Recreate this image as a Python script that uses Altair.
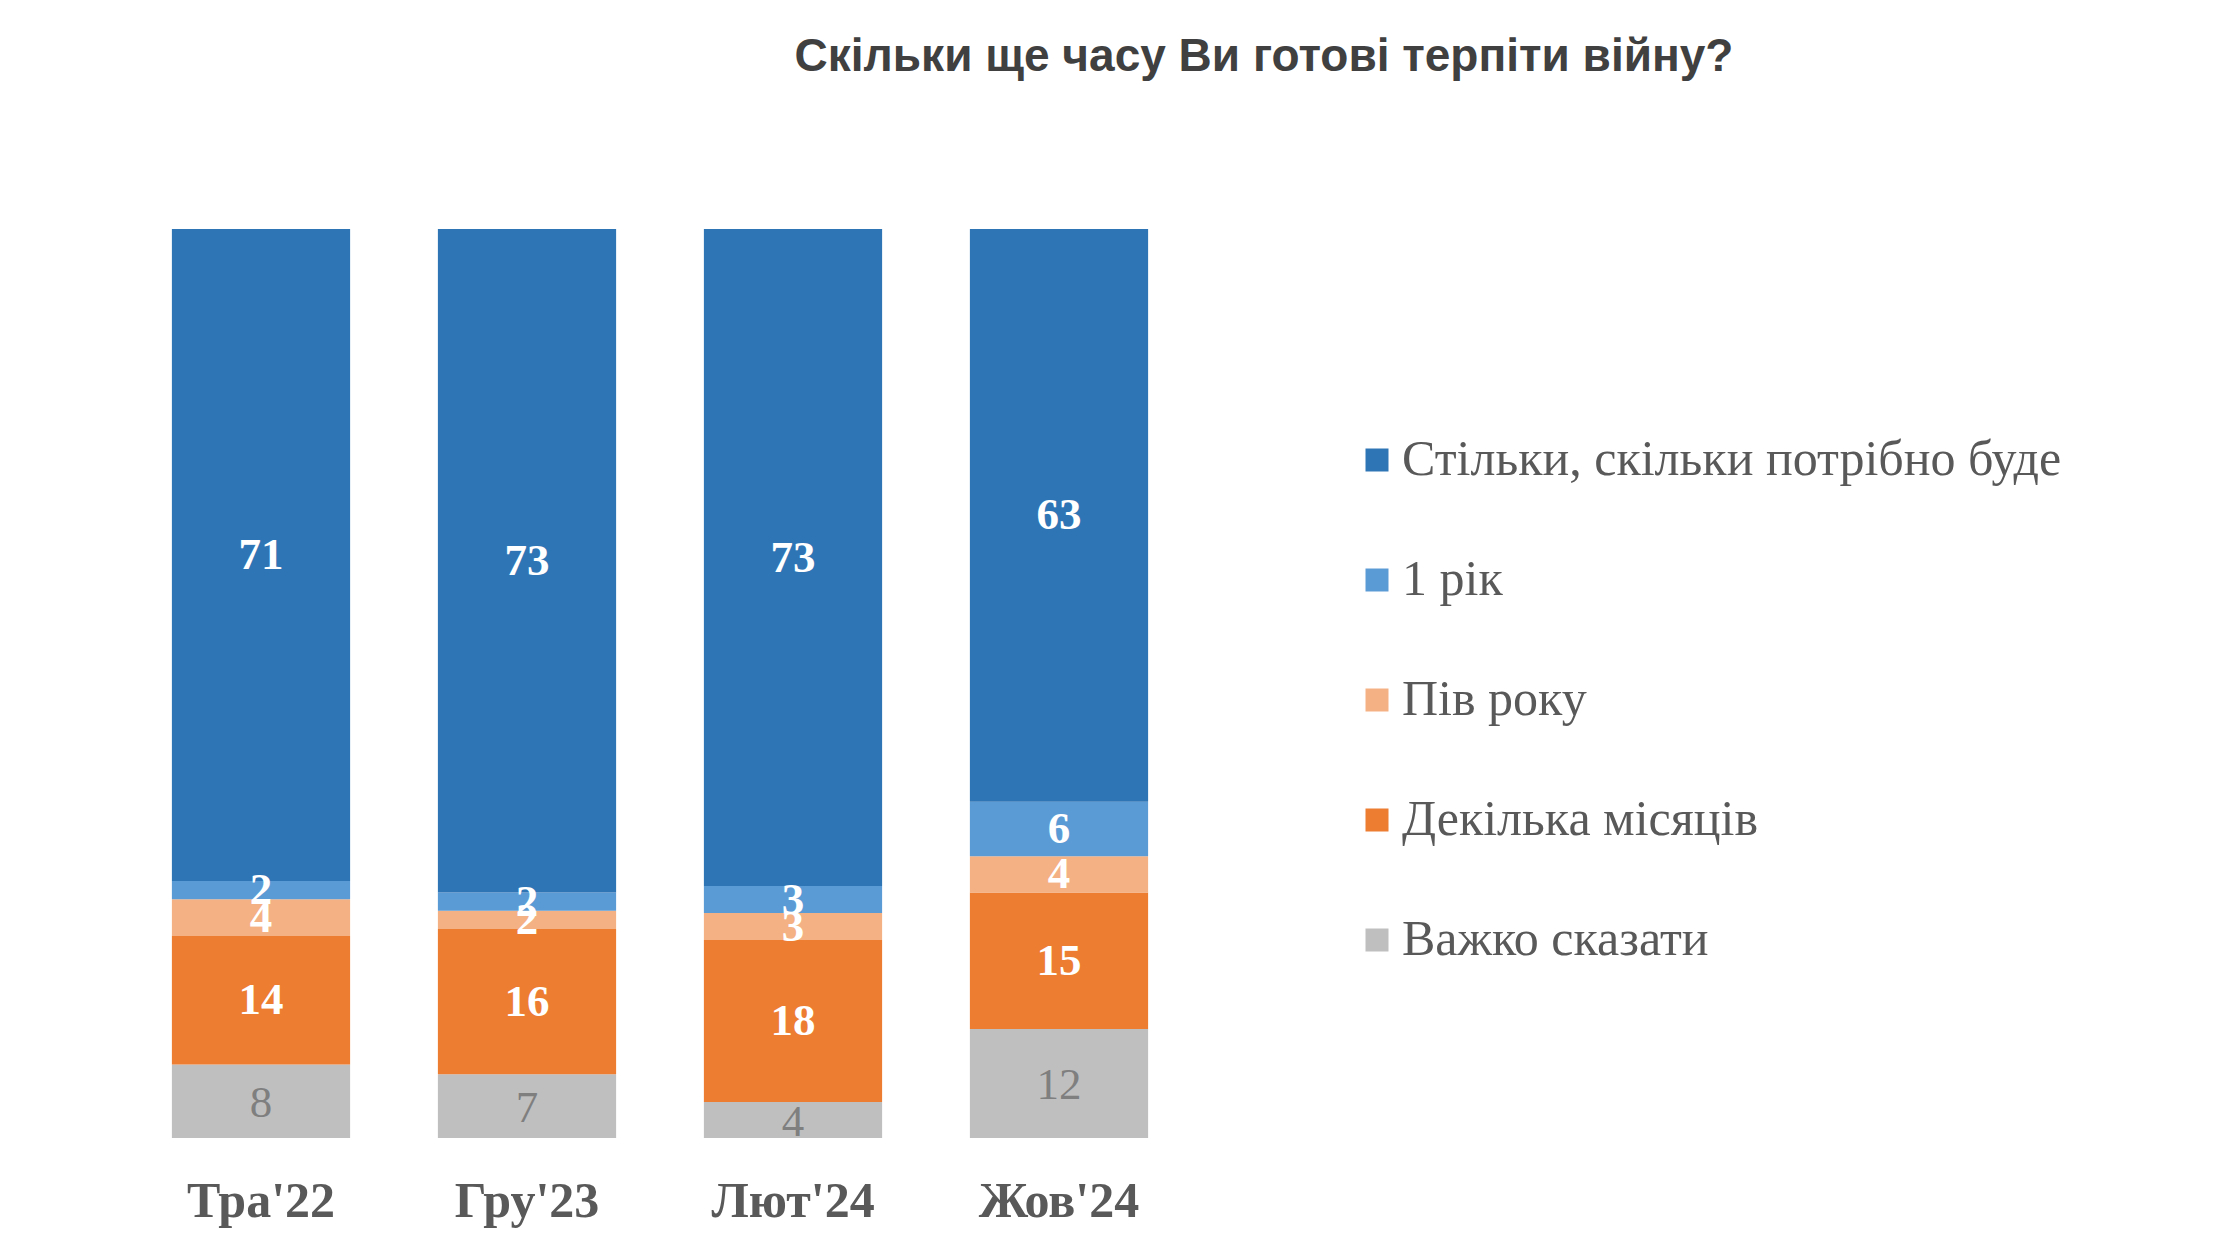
import altair as alt
import pandas as pd

periods = ["Тра'22", "Гру'23", "Лют'24", "Жов'24"]
categories = [
    "Стільки, скільки потрібно буде",
    "1 рік",
    "Пів року",
    "Декілька місяців",
    "Важко сказати",
]
colors = ["#2E75B6", "#5B9BD5", "#F4B183", "#ED7D31", "#BFBFBF"]

v_long = [71, 73, 73, 63]
v_year = [2, 2, 3, 6]
v_half = [4, 2, 3, 4]
v_months = [14, 16, 18, 15]
v_hard = [8, 7, 4, 12]

series = [v_long, v_year, v_half, v_months, v_hard]
stack_rank = [4, 3, 2, 1, 0]  # bottom = 0

rows = []
for ci, cat in enumerate(categories):
    for pi, p in enumerate(periods):
        rows.append({"period": p, "cat": cat, "value": series[ci][pi], "rank": stack_rank[ci]})
df = pd.DataFrame(rows)

base = (
    alt.Chart(df)
    .transform_stack(
        stack="value",
        groupby=["period"],
        as_=["y0", "y1"],
        offset="normalize",
        sort=[alt.SortField("rank", order="ascending")],
    )
    .transform_calculate(mid="(datum.y0 + datum.y1) / 2")
)

x_enc = alt.X(
    "period:N",
    sort=periods,
    scale=alt.Scale(paddingInner=0.33, paddingOuter=0.165),
    axis=alt.Axis(
        title=None,
        labelAngle=0,
        domain=False,
        ticks=False,
        grid=False,
        labelFont="Liberation Serif",
        labelFontWeight="bold",
        labelFontSize=50,
        labelColor="#595959",
        labelPadding=38,
    ),
)

bars = base.mark_bar(strokeWidth=0).encode(
    x=x_enc,
    y=alt.Y("y0:Q", scale=alt.Scale(domain=[0, 1]), axis=None),
    y2="y1:Q",
    color=alt.Color(
        "cat:N",
        scale=alt.Scale(domain=categories, range=colors),
        legend=alt.Legend(
            title=None,
            orient="none",
            legendX=1224,
            legendY=206,
            direction="vertical",
            columns=1,
            symbolType="square",
            symbolSize=529,
            symbolStrokeWidth=0,
            symbolOpacity=1,
            labelFont="Liberation Serif",
            labelFontSize=50,
            labelColor="#595959",
            labelOffset=0,
            labelLimit=1000,
            rowPadding=70,
            padding=0,
        ),
    ),
    order=alt.Order("rank:Q"),
)

labels_white = base.transform_filter(alt.datum.cat != "Важко сказати").mark_text(
    font="Liberation Serif",
    fontWeight="bold",
    fontSize=45,
    color="white",
    baseline="middle",
    align="center",
).encode(
    x=alt.X("period:N", sort=periods),
    y=alt.Y("mid:Q", scale=alt.Scale(domain=[0, 1]), axis=None),
    text="value:Q",
)

labels_gray = base.transform_filter(alt.datum.cat == "Важко сказати").mark_text(
    font="Liberation Serif",
    fontWeight="normal",
    fontSize=45,
    color="#7F7F7F",
    baseline="middle",
    align="center",
    dy=2,
).encode(
    x=alt.X("period:N", sort=periods),
    y=alt.Y("mid:Q", scale=alt.Scale(domain=[0, 1]), axis=None),
    text="value:Q",
)

chart = (
    alt.layer(bars, labels_white, labels_gray)
    .properties(
        width=1064,
        height=909,
        autosize=alt.AutoSizeParams(type="none"),
        padding={"left": 120, "top": 221, "right": 1030, "bottom": 100},
        title=alt.TitleParams(
            text="Скільки ще часу Ви готові терпіти війну?",
            font="Liberation Sans",
            fontSize=46,
            fontWeight="bold",
            color="#404040",
            anchor="middle",
            frame="group",
            dx=604,
            offset=148,
        ),
    )
    .configure(background="white")
    .configure_view(strokeWidth=0, stroke=None)
)

chart.save("out.html", embed_options={"renderer": "svg", "actions": False})
